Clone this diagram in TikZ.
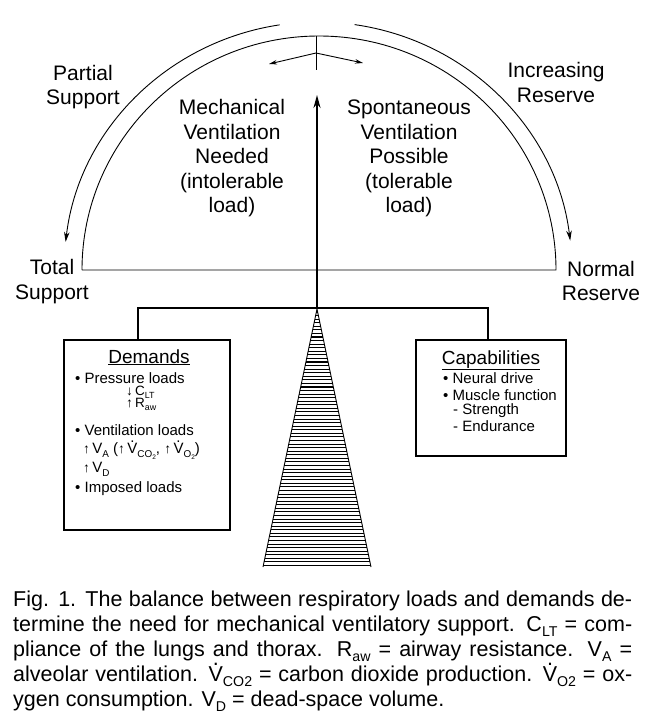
\documentclass[tikz,border=0pt]{standalone}
\usepackage{fontspec}
\setmainfont{Liberation Sans}
\usepackage{graphicx}
\usetikzlibrary{arrows.meta}
\newcommand{\Vd}{\ooalign{V\cr\hidewidth\smash{\raisebox{0.72em}{.}}\hidewidth\cr}}
\newcommand{\sbs}[1]{\smash{\raisebox{-0.25em}{\scalebox{0.66}{#1}}}}
\newcommand{\LblFont}{\fontsize{21}{24.5}\selectfont}
\newcommand{\TtlFont}{\fontsize{19}{22}\selectfont}
\newcommand{\ItmFont}{\fontsize{15}{18}\selectfont}
\newcommand{\SmlFont}{\fontsize{13.5}{16}\selectfont}
\newcommand{\ArwFont}{\fontsize{13.5}{13.5}\selectfont}
\newcommand{\CapFont}{\fontsize{21.5}{25}\selectfont}
\newcommand{\UpA}{\smash{{\ArwFont↑}}}
\newcommand{\DnA}{\smash{{\ArwFont↓}}}
\begin{document}
\begin{tikzpicture}[x=1pt,y=-1pt,
  lbl/.style={inner sep=0pt, align=center, font=\LblFont},
  txt/.style={inner sep=0pt, anchor=base west},
  capline/.style={inner sep=0pt, anchor=base west, font=\CapFont},
  panel/.style={draw, line width=1.2pt, inner sep=0pt},
  thinline/.style={line width=0.9pt},
  arcarrow/.style={line width=0.9pt, -{Stealth[length=10pt,width=5.5pt]}},
  forkarrow/.style={line width=0.9pt, -{Stealth[length=8pt,width=4.5pt]}},
  mainarrow/.style={line width=1.8pt, -{Stealth[length=13pt,width=7pt]}},
  barline/.style={line width=2pt},
  stripe/.style={line width=1.05pt}
]
\useasboundingbox (0,0) rectangle (645,721);
\fill[white] (0,0) rectangle (645,721);

% inner semicircle with base line
\coordinate (bl) at (82,270);
\coordinate (br) at (556,270);
\draw[thinline] (bl) arc[start angle=180, end angle=0, x radius=237pt, y radius=234pt] -- (bl);

% outer arcs with arrows
\draw[arcarrow] ([shift={(98.7:254pt and 248pt)}]318,270) arc[start angle=98.7, end angle=173.5, x radius=254pt, y radius=248pt];
\draw[arcarrow] ([shift={(81.7:254pt and 248pt)}]318,270) arc[start angle=81.7, end angle=6.8, x radius=254pt, y radius=248pt];

% small top fork
\coordinate (ftop) at (316,36);
\coordinate (fbot) at (316,70);
\coordinate (fork) at (316,53);
\coordinate (fl) at (269,64);
\coordinate (fr) at (363,63);
\draw[line width=0.8pt] (ftop) -- (fbot);
\draw[forkarrow] (fork) -- (fl);
\draw[forkarrow] (fork) -- (fr);

% labels
\node[lbl] (partial) at (83,87) {Partial\\Support};
\node[lbl] (increasing) at (556,82.5) {Increasing\\Reserve};
\node[lbl] (total) at (52,281.5) {Total\\Support};
\node[lbl] (normal) at (601,281) {Normal\\Reserve};
\node[lbl] (mech) at (232,158.5) {Mechanical\\Ventilation\\Needed\\(intolerable\\load)};
\node[lbl] (spont) at (409,158.5) {Spontaneous\\Ventilation\\Possible\\(tolerable\\load)};

% triangle (fulcrum)
\coordinate (apex) at (317,309);
\foreach \i in {0,...,71} {
  \pgfmathsetmacro\yy{312+3.57*\i}
  \pgfmathsetmacro\hw{(\yy-309)/258*54}
  \draw[stripe] (317-\hw,\yy) -- (317+\hw,\yy);
}
\draw[line width=0.9pt] (263,567) -- (apex) -- (371,567);

% boxes
\node[panel, minimum width=166pt, minimum height=190pt] (demands) at (147,435) {};
\node[panel, minimum width=150pt, minimum height=116pt] (capab) at (491,398) {};

% balance bar and main arrow
\coordinate (tip) at (317,95);
\draw[barline] ([xshift=-9pt]demands.north) -- (138,308) -- (488,308) -- ([xshift=-3pt]capab.north);
\draw[mainarrow] (apex) -- (tip);

% demands text
\node[inner sep=0pt, anchor=base, font=\TtlFont] (dt) at (149,363) {\underline{Demands}};
\node[txt, font=\ItmFont] (d1) at (75,383.5) {• Pressure loads};
\node[txt, font=\SmlFont] (d2) at (126,395) {\DnA\,C\sbs{LT}};
\node[txt, font=\SmlFont] (d3) at (126,407) {\UpA\,R\sbs{aw}};
\node[txt, font=\ItmFont] (d4) at (75,435.5) {• Ventilation loads};
\node[txt, font=\ItmFont] (d5) at (83,453.5) {\UpA\,V\sbs{A} (\UpA\,\Vd\sbs{CO\sbs{2}}, \UpA\,\Vd\sbs{O\sbs{2}})};
\node[txt, font=\ItmFont] (d6) at (83,472.5) {\UpA\,V\sbs{D}};
\node[txt, font=\ItmFont] (d7) at (75,492.5) {• Imposed loads};

% capabilities text
\node[inner sep=0pt, anchor=base, font=\TtlFont] (ct) at (491,364) {\underline{Capabilities}};
\node[txt, font=\ItmFont] (c1) at (443,383) {• Neural drive};
\node[txt, font=\ItmFont] (c2) at (443,400) {• Muscle function};
\node[txt, font=\ItmFont] (c3) at (453,414) {- Strength};
\node[txt, font=\ItmFont] (c4) at (453,431) {- Endurance};

% caption
\node[capline] (cap1) at (13,606) {\makebox[619pt][s]{Fig. 1. The balance between respiratory loads and demands de-}};
\node[capline] (cap2) at (13,631) {\makebox[619pt][s]{termine the need for mechanical ventilatory support. C\sbs{LT} = com-}};
\node[capline] (cap3) at (13,656) {\makebox[619pt][s]{pliance of the lungs and thorax. R\sbs{aw} = airway resistance. V\sbs{A} =}};
\node[capline] (cap4) at (13,681) {\makebox[619pt][s]{alveolar ventilation. \Vd\sbs{CO2} = carbon dioxide production. \Vd\sbs{O2} = ox-}};
\node[capline] (cap5) at (13,706) {ygen consumption. V\sbs{D} = dead-space volume.};
\end{tikzpicture}
\end{document}
